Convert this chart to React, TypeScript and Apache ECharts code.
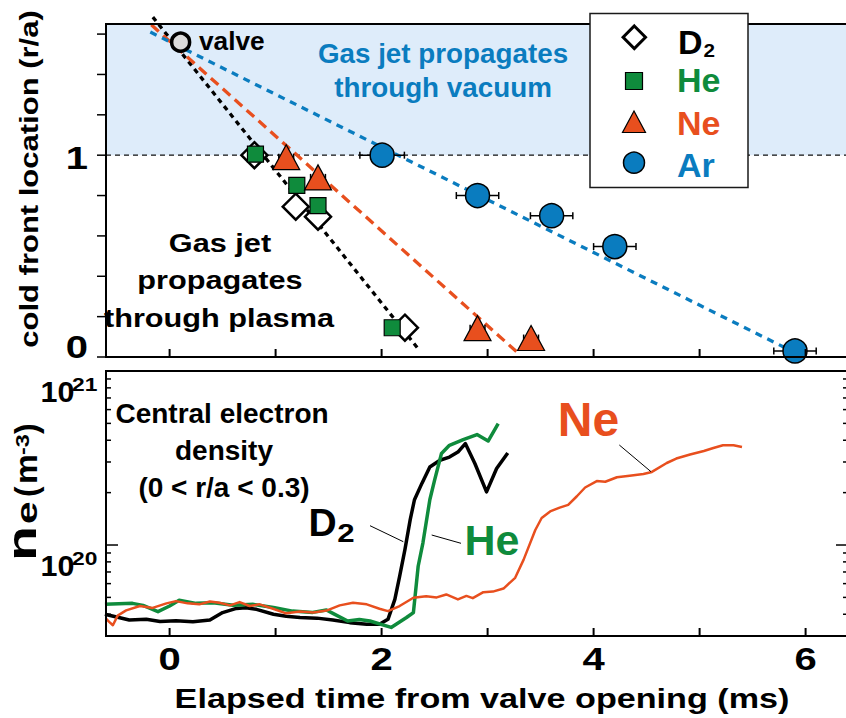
import React, { useEffect, useRef } from "react";
import * as echarts from "echarts";

// ---------- axis ranges and ticks ----------
const TIME_MIN = -0.6;
const TIME_MAX = 6.4;
const FRONT_MIN = 0;
const FRONT_MAX = 1.65;
const NE_MIN = 3e19;
const NE_MAX = 1e21;
const VACUUM_EDGE = 1;

const timeTicks = [0, 1, 2, 3, 4, 5, 6];
const timeLabels = [0, 2, 4, 6];
const frontTicks = [0, 0.2, 0.4, 0.6, 0.8, 1.0, 1.2, 1.4, 1.6];
const frontLabels = [0, 1];
const neDecades = [1e20, 1e21];
const neMinorTicks = [3e19, 4e19, 5e19, 6e19, 7e19, 8e19, 9e19, 2e20, 3e20, 4e20, 5e20, 6e20, 7e20, 8e20, 9e20];

// ---------- cold front location (r/a) vs time (ms) ----------
const d2Time = [0.8, 1.19, 1.4, 2.22];
const d2Front = [1.0, 0.745, 0.695, 0.145];
const d2Err = [0.06, 0.06, 0.06, 0.06];

const heTime = [0.81, 1.2, 1.4, 2.1];
const heFront = [1.005, 0.85, 0.75, 0.145];
const heErr = [0.06, 0.06, 0.06, 0.06];

const neTime = [1.1, 1.4, 2.905, 3.41];
const neFront = [0.99, 0.89, 0.143, 0.094];
const neErr = [0.07, 0.07, 0.07, 0.07];

const arTime = [2.005, 2.905, 3.604, 4.2, 5.9];
const arFront = [1.0, 0.8, 0.7, 0.547, 0.03];
const arErr = [0.21, 0.2, 0.2, 0.2, 0.2];

const valveTime = [0.104];
const valveFront = [1.56];

// straight-line fits of the front propagation: endpoints [time, r/a]
const d2FitTime = [-0.158, 2.354];
const d2FitFront = [1.684, 0.035];
const neFitTime = [-0.173, 3.274];
const neFitFront = [1.646, 0.026];
const arFitTime = [-0.182, 5.807];
const arFitFront = [1.61, 0.046];

// ---------- central electron density (m^-3) vs time (ms) ----------
const d2NeTime = [-0.61, -0.52, -0.38, -0.22, -0.09, 0.06, 0.22, 0.38, 0.5, 0.63, 0.72, 0.82, 0.98, 1.1, 1.23, 1.39, 1.54, 1.7, 1.86, 1.98, 2.06, 2.125, 2.17, 2.22, 2.27, 2.31, 2.38, 2.455, 2.55, 2.64, 2.72, 2.79, 2.88, 2.99, 3.085, 3.19];
const d2Ne = [4.0e19, 3.88e19, 3.71e19, 3.74e19, 3.63e19, 3.67e19, 3.62e19, 3.71e19, 4.09e19, 4.32e19, 4.36e19, 4.27e19, 4.0e19, 3.9e19, 3.83e19, 3.8e19, 3.71e19, 3.58e19, 3.5e19, 3.5e19, 3.74e19, 4.87e19, 6.6e19, 9.4e19, 1.4e20, 1.82e20, 2.26e20, 2.81e20, 3.07e20, 3.2e20, 3.42e20, 3.83e20, 2.94e20, 2.02e20, 2.75e20, 3.38e20];

const heNeTime = [-0.61, -0.35, -0.25, -0.11, 0.0, 0.09, 0.25, 0.41, 0.6, 0.79, 0.98, 1.16, 1.35, 1.48, 1.54, 1.68, 1.79, 1.89, 2.09, 2.235, 2.3, 2.345, 2.39, 2.455, 2.5, 2.565, 2.64, 2.77, 2.9, 3.005, 3.1];
const heNe = [4.56e19, 4.62e19, 4.5e19, 4.14e19, 4.46e19, 4.81e19, 4.62e19, 4.66e19, 4.5e19, 4.56e19, 4.37e19, 4.17e19, 4.1e19, 4.23e19, 4.05e19, 3.66e19, 3.73e19, 3.66e19, 3.36e19, 3.83e19, 4.09e19, 7.55e19, 1.03e20, 1.82e20, 2.36e20, 3.36e20, 3.74e20, 4.03e20, 4.31e20, 3.96e20, 4.98e20];

const neNeTime = [-0.6, -0.57, -0.535, -0.49, -0.41, -0.28, -0.16, -0.03, 0.06, 0.17, 0.28, 0.38, 0.47, 0.57, 0.66, 0.755, 0.85, 0.975, 1.1, 1.23, 1.355, 1.48, 1.605, 1.73, 1.86, 1.98, 2.06, 2.17, 2.3, 2.42, 2.52, 2.61, 2.72, 2.8, 2.86, 2.96, 3.05, 3.15, 3.26, 3.34, 3.45, 3.51, 3.59, 3.68, 3.76, 3.84, 3.92, 4.03, 4.11, 4.22, 4.34, 4.47, 4.55, 4.69, 4.78, 4.91, 5.04, 5.13, 5.22, 5.32, 5.4];
const neNe = [3.78e19, 3.62e19, 3.46e19, 3.93e19, 4.21e19, 4.46e19, 4.35e19, 4.62e19, 4.76e19, 4.62e19, 4.56e19, 4.74e19, 4.66e19, 4.5e19, 4.7e19, 4.46e19, 4.56e19, 4.3e19, 4.05e19, 4.15e19, 4.1e19, 4.2e19, 4.5e19, 4.66e19, 4.56e19, 4.3e19, 4.17e19, 4.46e19, 4.98e19, 5.08e19, 5.0e19, 5.2e19, 4.87e19, 5.1e19, 4.95e19, 5.36e19, 5.4e19, 5.62e19, 6.48e19, 8.24e19, 1.22e20, 1.43e20, 1.56e20, 1.64e20, 1.7e20, 1.9e20, 2.14e20, 2.33e20, 2.31e20, 2.45e20, 2.5e20, 2.56e20, 2.63e20, 2.96e20, 3.14e20, 3.31e20, 3.47e20, 3.61e20, 3.74e20, 3.74e20, 3.66e20];

// ---------- styling ----------
const BLACK = "#000000";
const GREEN = "#0f8b3c";
const ORANGE = "#e84f1e";
const BLUE = "#0a7cbf";
const SHADE = "#deecfa";
const FONT = '"Liberation Sans", Arial, Helvetica, sans-serif';

const pairs = (xs: number[], ys: number[]) => xs.map((x, i) => [x, ys[i]]);
const triples = (xs: number[], ys: number[], es: number[]) => xs.map((x, i) => [x, ys[i], es[i]]);

function textStyle(text: string, size: number, color: string, align = "center") {
  return {
    text,
    fill: color,
    fontFamily: FONT,
    fontWeight: "bold",
    fontSize: size,
    align,
    verticalAlign: "middle",
  };
}

function label(text: string, x: number, y: number, size: number, color: string, opts: any = {}) {
  return {
    type: "text",
    x,
    y,
    z: opts.z ?? 50,
    silent: true,
    scaleX: opts.sx ?? 1,
    rotation: opts.rot ?? 0,
    style: textStyle(text, size, color, opts.align ?? "center"),
  };
}

function leader(x1: number, y1: number, x2: number, y2: number) {
  return {
    type: "line",
    z: 50,
    silent: true,
    shape: { x1, y1, x2, y2 },
    style: { stroke: BLACK, lineWidth: 1 },
  };
}

// a custom series that draws tick marks at given axis values
function tickSeries(
  xAxisIndex: number,
  yAxisIndex: number,
  values: number[],
  toPoint: (v: number) => number[],
  dx: number,
  dy: number,
  width: number
) {
  return {
    type: "custom",
    xAxisIndex,
    yAxisIndex,
    z: 10,
    silent: true,
    clip: false,
    data: values.map((v) => [v]),
    renderItem: (_p: any, api: any) => {
      const p = api.coord(toPoint(api.value(0)));
      return {
        type: "line",
        shape: { x1: p[0], y1: p[1], x2: p[0] + dx, y2: p[1] + dy },
        style: { stroke: BLACK, lineWidth: width },
      };
    },
  };
}

function buildOption() {
  const hiddenAxis = {
    axisLine: { show: false },
    axisLabel: { show: false },
    splitLine: { show: false },
    axisTick: { show: false },
  };

  const errorBars = {
    type: "custom",
    xAxisIndex: 0,
    yAxisIndex: 0,
    z: 3,
    silent: true,
    clip: false,
    data: [
      ...triples(d2Time, d2Front, d2Err),
      ...triples(heTime, heFront, heErr),
      ...triples(neTime, neFront, neErr),
      ...triples(arTime, arFront, arErr),
    ],
    renderItem: (_p: any, api: any) => {
      const x = api.value(0);
      const y = api.value(1);
      const e = api.value(2);
      const a = api.coord([x - e, y]);
      const b = api.coord([x + e, y]);
      const st = { stroke: BLACK, lineWidth: 1.5 };
      return {
        type: "group",
        children: [
          { type: "line", shape: { x1: a[0], y1: a[1], x2: b[0], y2: b[1] }, style: st },
          { type: "line", shape: { x1: a[0], y1: a[1] - 3.5, x2: a[0], y2: a[1] + 3.5 }, style: st },
          { type: "line", shape: { x1: b[0], y1: b[1] - 3.5, x2: b[0], y2: b[1] + 3.5 }, style: st },
        ],
      };
    },
  };

  const fitLine = (xs: number[], ys: number[], color: string, dash: number[]) => ({
    type: "line",
    xAxisIndex: 0,
    yAxisIndex: 0,
    z: 2,
    clip: false,
    silent: true,
    symbol: "none",
    data: pairs(xs, ys),
    lineStyle: { color, width: 3.3, type: dash },
  });

  const scatter = (xs: number[], ys: number[], symbol: string, size: any, fill: string, borderWidth: number, z: number) => ({
    type: "scatter",
    xAxisIndex: 0,
    yAxisIndex: 0,
    z,
    silent: true,
    symbol,
    symbolSize: size,
    data: pairs(xs, ys),
    itemStyle: { color: fill, borderColor: BLACK, borderWidth, opacity: 1 },
  });

  const neLine = (xs: number[], ys: number[], color: string, width: number, z: number) => ({
    type: "line",
    xAxisIndex: 1,
    yAxisIndex: 1,
    z,
    silent: true,
    symbol: "none",
    data: pairs(xs, ys),
    lineStyle: { color, width, join: "round" },
  });

  // tick labels placed through the axes' own scales
  const timeLabelSeries = {
    type: "custom",
    xAxisIndex: 1,
    yAxisIndex: 1,
    z: 10,
    silent: true,
    clip: false,
    data: timeLabels.map((t) => [t, NE_MIN]),
    renderItem: (_p: any, api: any) => {
      const p = api.coord([api.value(0), api.value(1)]);
      return { type: "text", x: p[0], y: p[1] + 23, scaleX: 1.25, style: textStyle(String(api.value(0)), 32, BLACK) };
    },
  };

  const frontLabelSeries = {
    type: "custom",
    xAxisIndex: 0,
    yAxisIndex: 0,
    z: 10,
    silent: true,
    clip: false,
    data: frontLabels.map((r) => [TIME_MIN, r]),
    renderItem: (_p: any, api: any) => {
      const v = api.value(1);
      const p = api.coord([api.value(0), v]);
      const dy = v === 0 ? -10 : 3;
      return { type: "text", x: p[0] - 29, y: p[1] + dy, scaleX: 1.25, style: textStyle(String(v), 32, BLACK) };
    },
  };

  const decadeLabelSeries = {
    type: "custom",
    xAxisIndex: 1,
    yAxisIndex: 1,
    z: 10,
    silent: true,
    clip: false,
    data: neDecades.map((n) => [TIME_MIN, n]),
    renderItem: (_p: any, api: any) => {
      const v = api.value(1);
      const p = api.coord([api.value(0), v]);
      const exp = String(Math.round(Math.log10(v)));
      return {
        type: "group",
        children: [
          { type: "text", x: p[0] - 48.5, y: p[1] + 20.5, scaleX: 1.05, style: textStyle("10", 29, BLACK) },
          { type: "text", x: p[0] - 34, y: p[1] + 13.5, scaleX: 1.2, style: textStyle(exp, 19, BLACK, "left") },
        ],
      };
    },
  };

  const logTickSeries = {
    type: "custom",
    xAxisIndex: 1,
    yAxisIndex: 1,
    z: 10,
    silent: true,
    clip: false,
    data: [...neMinorTicks.map((n) => [n, 5]), ...neDecades.map((n) => [n, 12])],
    renderItem: (_p: any, api: any) => {
      const v = api.value(0);
      const len = api.value(1);
      const l = api.coord([TIME_MIN, v]);
      const r = api.coord([TIME_MAX, v]);
      const st = { stroke: BLACK, lineWidth: 1.5 };
      return {
        type: "group",
        children: [
          { type: "line", shape: { x1: l[0], y1: l[1], x2: l[0] + len, y2: l[1] }, style: st },
          { type: "line", shape: { x1: r[0] - len, y1: r[1], x2: r[0], y2: r[1] }, style: st },
        ],
      };
    },
  };

  const vacuumEdge = {
    type: "line",
    xAxisIndex: 0,
    yAxisIndex: 0,
    z: 1,
    silent: true,
    symbol: "none",
    data: [
      [TIME_MIN, VACUUM_EDGE],
      [TIME_MAX, VACUUM_EDGE],
    ],
    lineStyle: { color: "#111", width: 1.3, type: [5, 4] },
    markArea: {
      silent: true,
      itemStyle: { color: SHADE, borderWidth: 0 },
      data: [[{ yAxis: VACUUM_EDGE }, { yAxis: FRONT_MAX }]],
    },
  };

  const frameStyle = { fill: "none", stroke: BLACK, lineWidth: 2 };

  const graphics: any[] = [
    // plot frames
    { type: "rect", z: 40, silent: true, shape: { x: 106, y: 24, width: 742, height: 333 }, style: frameStyle },
    { type: "rect", z: 40, silent: true, shape: { x: 106, y: 371, width: 742, height: 265 }, style: frameStyle },

    // axis titles
    label("cold front location (r/a)", 30, 179, 25, BLACK, { rot: Math.PI / 2, sx: 1.24 }),
    label("Elapsed time from valve opening (ms)", 482, 698.5, 28, BLACK, { sx: 1.22 }),
    label("n", 22.5, 561, 41, BLACK, { rot: Math.PI / 2, sx: 1.4, align: "left" }),
    label("e", 26.7, 524, 29, BLACK, { rot: Math.PI / 2, sx: 1.4, align: "left" }),
    label("(", 25.6, 497, 32, BLACK, { rot: Math.PI / 2, align: "left" }),
    label("m", 25.6, 484, 32, BLACK, { rot: Math.PI / 2, sx: 1.05, align: "left" }),
    label("-3", 22.4, 455, 18, BLACK, { rot: Math.PI / 2, sx: 1.3, align: "left" }),
    label(")", 25.6, 434, 32, BLACK, { rot: Math.PI / 2, align: "left" }),

    // annotations, top panel
    label("valve", 199, 41.5, 25, BLACK, { align: "left", sx: 1.05 }),
    label("Gas jet propagates", 443, 54, 27, BLUE, { sx: 1.03 }),
    label("through vacuum", 443, 87.5, 27, BLUE, { sx: 1.03 }),
    label("Gas jet", 220, 242.7, 26, BLACK, { sx: 1.18 }),
    label("propagates", 220, 280.3, 26, BLACK, { sx: 1.18 }),
    label("through plasma", 219, 317.5, 26, BLACK, { sx: 1.18 }),

    // annotations, bottom panel
    label("Central electron", 222, 413.5, 28, BLACK),
    label("density", 224, 450.5, 28, BLACK),
    label("(0 < r/a < 0.3)", 224, 487, 28, BLACK),
    label("D", 322.5, 522, 39, BLACK),
    label("2", 346, 532.5, 26, BLACK, { sx: 1.2 }),
    leader(370, 525.7, 403.3, 541.7),
    label("He", 492, 540, 43, GREEN),
    leader(431.7, 535, 461, 543.3),
    label("Ne", 588.5, 419.5, 48, ORANGE),
    leader(619.3, 445, 651, 471.7),

    // legend
    { type: "rect", z: 60, silent: true, shape: { x: 590, y: 13.5, width: 158, height: 174 }, style: { fill: "#ffffff", stroke: "#1a1a1a", lineWidth: 1.5 } },
    { type: "polygon", z: 61, silent: true, shape: { points: [[634.3, 26], [645.5, 37.3], [634.3, 48.6], [623.1, 37.3]] }, style: { fill: "#ffffff", stroke: BLACK, lineWidth: 3 } },
    { type: "rect", z: 61, silent: true, shape: { x: 625.5, y: 72.5, width: 17, height: 17 }, style: { fill: GREEN, stroke: BLACK, lineWidth: 1.2 } },
    { type: "polygon", z: 61, silent: true, shape: { points: [[634, 111], [622.5, 132.5], [645.5, 132.5]] }, style: { fill: ORANGE, stroke: BLACK, lineWidth: 1.2 } },
    { type: "circle", z: 61, silent: true, shape: { cx: 634, cy: 162.7, r: 10.5 }, style: { fill: BLUE, stroke: BLACK, lineWidth: 1.5 } },
    label("D", 678, 41.7, 34, BLACK, { align: "left", z: 62 }),
    label("2", 703.5, 51, 18, BLACK, { align: "left", sx: 1.15, z: 62 }),
    label("He", 677, 79.5, 34, GREEN, { align: "left", z: 62 }),
    label("Ne", 677, 122.5, 34, ORANGE, { align: "left", z: 62 }),
    label("Ar", 677, 164.6, 34, BLUE, { align: "left", z: 62 }),
  ];

  return {
    animation: false,
    backgroundColor: "#ffffff",
    grid: [
      { left: 106, top: 24, width: 742, height: 333, show: false },
      { left: 106, top: 371, width: 742, height: 265, show: false },
    ],
    xAxis: [
      { gridIndex: 0, type: "value", min: TIME_MIN, max: TIME_MAX, ...hiddenAxis },
      { gridIndex: 1, type: "value", min: TIME_MIN, max: TIME_MAX, ...hiddenAxis },
    ],
    yAxis: [
      { gridIndex: 0, type: "value", min: FRONT_MIN, max: FRONT_MAX, ...hiddenAxis },
      { gridIndex: 1, type: "log", logBase: 10, min: NE_MIN, max: NE_MAX, ...hiddenAxis },
    ],
    series: [
      vacuumEdge,
      fitLine(d2FitTime, d2FitFront, BLACK, [5, 4.5]),
      fitLine(neFitTime, neFitFront, ORANGE, [10, 6]),
      fitLine(arFitTime, arFitFront, BLUE, [7, 6]),
      errorBars,
      scatter(d2Time, d2Front, "diamond", 26, "#ffffff", 2.5, 4),
      scatter(heTime, heFront, "rect", 16, GREEN, 1.2, 5),
      scatter(neTime, neFront, "triangle", [27, 25], ORANGE, 1.2, 5),
      scatter(arTime, arFront, "circle", 24, BLUE, 1.5, 5),
      scatter(valveTime, valveFront, "circle", 18, "#dcdcdc", 3.5, 5),
      neLine(d2NeTime, d2Ne, BLACK, 3.5, 3),
      neLine(heNeTime, heNe, GREEN, 3.5, 4),
      neLine(neNeTime, neNe, ORANGE, 2.5, 5),
      // tick marks: inward time ticks on both panels, outward r/a ticks
      tickSeries(0, 0, timeTicks, (t) => [t, FRONT_MIN], 0, -8, 2),
      tickSeries(1, 1, timeTicks, (t) => [t, NE_MIN], 0, -8, 2),
      tickSeries(0, 0, frontTicks, (r) => [TIME_MIN, r], -9, 0, 1.5),
      logTickSeries,
      timeLabelSeries,
      frontLabelSeries,
      decadeLabelSeries,
    ],
    graphic: { elements: graphics },
  };
}

export default function App() {
  const ref = useRef<HTMLDivElement>(null);
  useEffect(() => {
    if (!ref.current) return;
    const chart = echarts.init(ref.current, undefined, { renderer: "svg" });
    chart.setOption(buildOption() as any);
    return () => chart.dispose();
  }, []);
  return (
    <div
      ref={ref}
      style={{ position: "fixed", left: 0, top: 0, width: 850, height: 718, background: "#ffffff" }}
    />
  );
}
